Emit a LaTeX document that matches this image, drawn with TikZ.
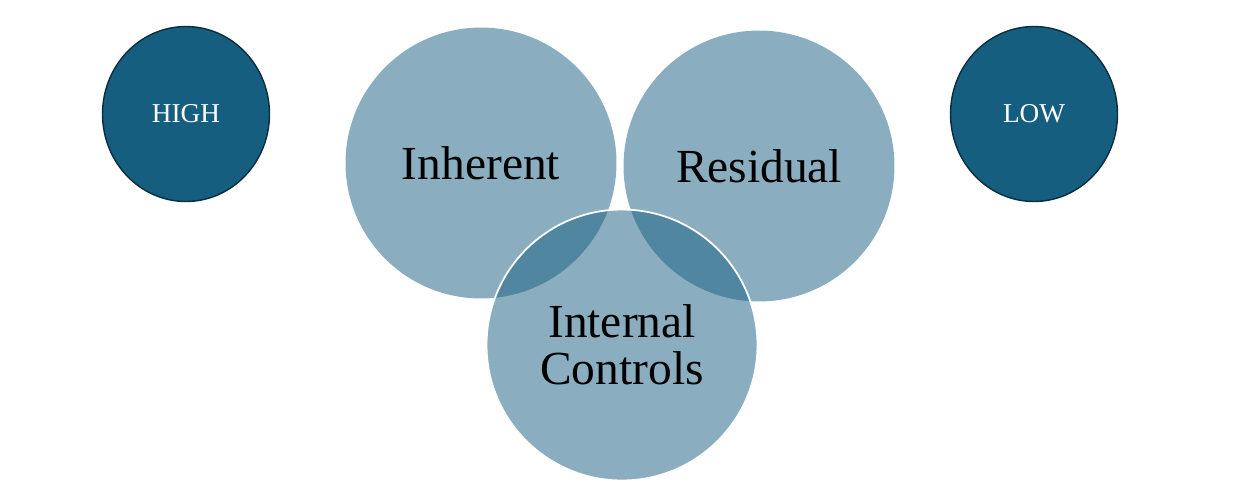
\documentclass[tikz,border=0pt]{standalone}
\usepackage{fontspec}
\setmainfont{Liberation Serif}
\usetikzlibrary{shapes.geometric}
\definecolor{riskblue}{HTML}{165E80}
\definecolor{riskedge}{HTML}{0B2E3F}
\tikzset{
  riskcircle/.style={circle, minimum size=5.42cm, inner sep=0pt,
    fill=riskblue, fill opacity=0.5, text opacity=1, text=black,
    font=\fontsize{27}{26.5}\selectfont, align=center},
  levelcircle/.style={ellipse, minimum width=3.34cm, minimum height=3.5cm,
    inner sep=0pt, fill=riskblue, draw=riskedge, line width=0.8pt,
    text=white, font=\fontsize{15.5}{17}\selectfont}
}
\begin{document}
\begin{tikzpicture}[x=0.02cm, y=-0.02cm]
  \useasboundingbox (0,0) rectangle (1237,485);
  % level markers
  \node[levelcircle] (high) at (186,114) {HIGH};
  \node[levelcircle] (low) at (1034,114) {LOW};
  % risk circles
  \node[riskcircle] (inherent) at (481,163) {Inherent};
  \node[riskcircle] (residual) at (759,166) {Residual};
  \node[riskcircle, draw=white, draw opacity=1, line width=1pt] (controls) at (622,345) {Internal\\Controls};
\end{tikzpicture}
\end{document}
